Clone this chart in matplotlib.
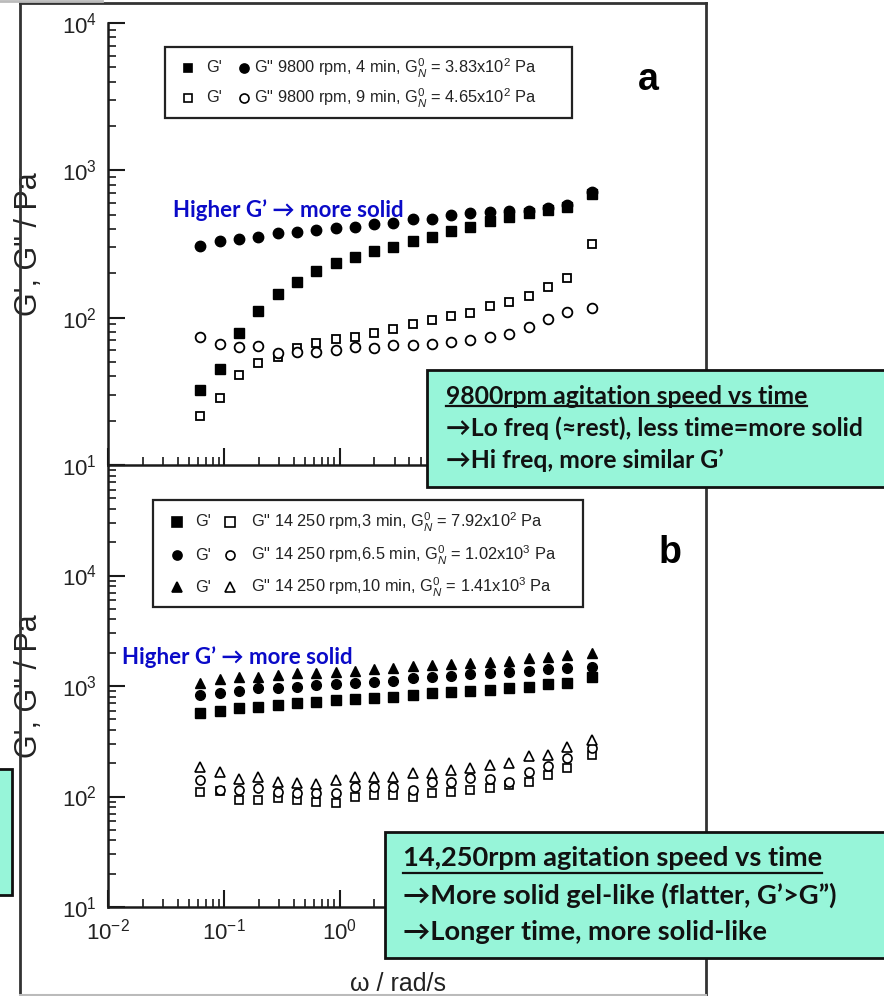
import matplotlib
matplotlib.use("Agg")
import matplotlib.pyplot as plt
from matplotlib.lines import Line2D
from matplotlib.patches import Rectangle
from matplotlib.ticker import LogLocator, NullFormatter

# ---------------------------------------------------------------- data
omega = [0.0628, 0.0922, 0.135, 0.199, 0.292, 0.428, 0.628, 0.922, 1.35, 1.99,
         2.92, 4.28, 6.28, 9.22, 13.5, 19.9, 29.2, 42.8, 62.8, 92.2, 150]

# (a) 9800 rpm
g1_4min = [32.3, 44.7, 78.3, 111, 145, 174, 207, 236, 257, 285, 303,
           332, 355, 390, 415, 456, 486, 512, 539, 567, 690]
g2_4min = [308, 332, 342, 355, 374, 384, 394, 404, 415, 431, 442,
           466, 468, 498, 511, 525, 530, 533, 553, 582, 710]
g1_9min = [21.5, 28.4, 40.8, 49.5, 54.3, 62, 67, 71.3, 74.3, 78.3, 83.8,
           90.2, 96.4, 103, 108, 120, 128, 141, 161, 185, 316]
g2_9min = [74.3, 66.2, 63.5, 64.5, 57.3, 58.7, 58.7, 60.4, 63.5, 62, 65.3,
           65.3, 66.2, 68.7, 70.6, 74.3, 77.4, 86.9, 97.5, 110, 116]

# (b) 14 250 rpm
g1_3min = [566, 598, 628, 650, 673, 706, 721, 747, 757, 773, 789,
           830, 860, 889, 907, 920, 953, 986, 1043, 1072, 1214]
g1_65min = [830, 860, 907, 953, 953, 986, 1021, 1036, 1057, 1094, 1117,
            1172, 1198, 1231, 1275, 1320, 1347, 1375, 1415, 1445, 1494]
g1_10min = [1057, 1148, 1198, 1214, 1258, 1303, 1320, 1347, 1375, 1415, 1445,
            1517, 1549, 1582, 1625, 1660, 1695, 1779, 1840, 1908, 1974]
g2_3min = [110, 113, 93, 93, 96, 93, 90, 87, 99.6, 103, 103,
           100, 107, 110, 115, 119, 127, 136, 157, 180, 238]
g2_65min = [141, 115, 115, 119, 110, 107, 107, 107, 123, 123, 123,
            115, 136, 136, 146, 143, 136, 168, 189, 221, 273]
g2_10min = [186, 168, 143, 151, 136, 133, 130, 141, 151, 151, 151,
            162, 164, 174, 180, 193, 202, 233, 238, 283, 325]

legend_a = ['G" 9800 rpm, 4 min, G$^{0}_{N}$ = 3.83x10$^{2}$ Pa',
            'G" 9800 rpm, 9 min, G$^{0}_{N}$ = 4.65x10$^{2}$ Pa']
legend_b = ['G" 14 250 rpm,3 min, G$^{0}_{N}$ = 7.92x10$^{2}$ Pa',
            'G" 14 250 rpm,6.5 min, G$^{0}_{N}$ = 1.02x10$^{3}$ Pa',
            'G" 14 250 rpm,10 min, G$^{0}_{N}$ = 1.41x10$^{3}$ Pa']

# decades to the right of 10^0 sit under the note box, so they carry no label
xticks = [1e-2, 1e-1, 1e0, 1e1, 1e2, 1e3]
xticklabels = ['$10^{-2}$', '$10^{-1}$', '$10^{0}$', '', '', '']
yticks_a = [1e1, 1e2, 1e3, 1e4]
yticklabels_a = ['$10^{1}$', '$10^{2}$', '$10^{3}$', '$10^{4}$']
yticks_b = [1e1, 1e2, 1e3, 1e4, 1e5]
yticklabels_b = ['$10^{1}$', '$10^{2}$', '$10^{3}$', '$10^{4}$', '']

note_a = ["9800rpm agitation speed vs time",
          "→Lo freq (≈rest), less time=more solid",
          "→Hi freq, more similar G’"]
note_b = ["14,250rpm agitation speed vs time",
          "→More solid gel-like (flatter, G’>G”)",
          "→Longer time, more solid-like"]
hint = "Higher G’ → more solid"

# ---------------------------------------------------------------- style
plt.rcParams['font.family'] = ['Liberation Sans', 'DejaVu Sans']
plt.rcParams['mathtext.fontset'] = 'custom'
plt.rcParams['mathtext.rm'] = 'Liberation Sans'
plt.rcParams['mathtext.it'] = 'Liberation Sans:italic'
plt.rcParams['mathtext.bf'] = 'Liberation Sans:bold'

W, H = 884, 996
fig = plt.figure(figsize=(W / 100, H / 100), dpi=100)
fig.patch.set_facecolor('white')

INK = '#1a1a1a'
TEAL = '#97F5D9'
BLUE = '#0A0AC8'
NOTE_FONT = ['Lato', 'DejaVu Sans']
LEG_SIZE = 11.8


def fx(x):
    return x / W


def fy(y):
    return 1 - y / H


def axes_px(x0, y0, x1, y1):
    return fig.add_axes([fx(x0), fy(y1), (x1 - x0) / W, (y1 - y0) / H])


def style_axes(ax, ylim, yticks, ylabels, show_x):
    ax.set_xscale('log')
    ax.set_yscale('log')
    ax.set_xlim(1e-2, 1e3)
    ax.set_ylim(*ylim)
    ax.patch.set_alpha(0)
    for s in ('top', 'right'):
        ax.spines[s].set_visible(False)
    for s in ('left', 'bottom'):
        ax.spines[s].set_linewidth(1.8)
        ax.spines[s].set_color(INK)
    ax.set_xticks(xticks, xticklabels if show_x else [''] * len(xticks))
    ax.set_yticks(yticks, ylabels)
    ax.xaxis.set_minor_locator(LogLocator(base=10, subs=range(2, 10), numticks=20))
    ax.yaxis.set_minor_locator(LogLocator(base=10, subs=range(2, 10), numticks=20))
    ax.xaxis.set_minor_formatter(NullFormatter())
    ax.yaxis.set_minor_formatter(NullFormatter())
    ax.tick_params(which='both', direction='in', color=INK, labelcolor='#222',
                   labelsize=16, top=False, right=False)
    ax.tick_params(which='major', length=12, width=1.5, pad=8)
    ax.tick_params(which='minor', length=6, width=1.2)
    ax.set_ylabel('G\', G" / Pa', fontsize=22, color='#222')
    ax.yaxis.set_label_coords(-0.11, 0.5)


ax_a = axes_px(108, 23, 687, 465)
ax_b = axes_px(108, 465, 687, 907)
style_axes(ax_a, (1e1, 1e4), yticks_a, yticklabels_a, False)
style_axes(ax_b, (1e1, 1e5), yticks_b, yticklabels_b, True)
ax_b.set_xlabel('ω / rad/s', fontsize=18, color='#222', labelpad=20)

mk = dict(linestyle='none', color='black', clip_on=False)
# (a)
ax_a.plot(omega, g1_9min, marker='s', ms=6, mfc='white', mew=1.3, **mk)
ax_a.plot(omega, g2_9min, marker='o', ms=7, mfc='white', mew=1.3, **mk)
ax_a.plot(omega, g1_4min, marker='s', ms=6.5, **mk)
ax_a.plot(omega, g2_4min, marker='o', ms=7.5, **mk)
# (b)
ax_b.plot(omega, g2_3min, marker='s', ms=6, mfc='white', mew=1.2, **mk)
ax_b.plot(omega, g2_65min, marker='o', ms=6.5, mfc='white', mew=1.2, **mk)
ax_b.plot(omega, g2_10min, marker='^', ms=7, mfc='white', mew=1.2, **mk)
ax_b.plot(omega, g1_3min, marker='s', ms=6.5, **mk)
ax_b.plot(omega, g1_65min, marker='o', ms=7, **mk)
ax_b.plot(omega, g1_10min, marker='^', ms=7.5, **mk)


# ---------------------------------------------------------------- legends
def key_marker(x, y, marker, filled, ms):
    fig.add_artist(Line2D([fx(x)], [fy(y)], transform=fig.transFigure,
                          marker=marker, ms=ms, color='black',
                          mfc='black' if filled else 'white', mew=1.2,
                          linestyle='none', zorder=6))


def legend_box(x0, y0, x1, y1):
    fig.add_artist(Rectangle((fx(x0), fy(y1)), (x1 - x0) / W, (y1 - y0) / H,
                             transform=fig.transFigure, fill=False,
                             edgecolor='#222', lw=1.6, zorder=6))


legend_box(165, 47, 572, 118)
rows_a = [(68, 's', 'o', True), (98, 's', 'o', False)]
for (y, m1, m2, filled), lab in zip(rows_a, legend_a):
    key_marker(188, y, m1, filled, 6)
    fig.text(fx(206), fy(y), "G'", fontsize=LEG_SIZE, va='center', color='#222', zorder=6)
    key_marker(244, y, m2, filled, 6.5)
    fig.text(fx(254), fy(y), lab, fontsize=LEG_SIZE, va='center', color='#222', zorder=6)

legend_box(153, 500, 583, 607)
rows_b = [(522, 's'), (555, 'o'), (587, '^')]
for (y, m), lab in zip(rows_b, legend_b):
    key_marker(177, y, m, True, 6.5)
    fig.text(fx(195), fy(y), "G'", fontsize=LEG_SIZE, va='center', color='#222', zorder=6)
    key_marker(230, y, m, False, 6.5)
    fig.text(fx(251), fy(y), lab, fontsize=LEG_SIZE, va='center', color='#222', zorder=6)

fig.text(fx(648), fy(80), 'a', fontsize=27, fontweight='bold', ha='center', va='center')
fig.text(fx(670), fy(553), 'b', fontsize=27, fontweight='bold', ha='center', va='center')

# ---------------------------------------------------------------- page frame
frame = dict(transform=fig.transFigure, color='#333', lw=2, zorder=4)
fig.add_artist(Line2D([fx(20), fx(20)], [fy(3), fy(996)], **frame))
fig.add_artist(Line2D([fx(20), fx(706)], [fy(3), fy(3)], **frame))
fig.add_artist(Line2D([fx(706), fx(706)], [fy(3), fy(996)], **frame))
fig.add_artist(Line2D([fx(20), fx(706)], [fy(995), fy(995)],
                      transform=fig.transFigure, color='#bbbbbb', lw=1.5, zorder=4))
fig.add_artist(Line2D([fx(0), fx(102)], [fy(0.8), fy(0.8)],
                      transform=fig.transFigure, color='#bbbbbb', lw=2, zorder=4))

# ---------------------------------------------------------------- annotations
fig.text(fx(173), fy(210), hint, fontsize=16, fontweight='bold', color=BLUE,
         family=NOTE_FONT, va='center', zorder=7)
fig.text(fx(122), fy(657), hint, fontsize=16, fontweight='bold', color=BLUE,
         family=NOTE_FONT, va='center', zorder=7)


def note(x0, y0, y1, x_text, ys, lines, size):
    fig.add_artist(Rectangle((fx(x0), fy(y1)), (W + 20 - x0) / W, (y1 - y0) / H,
                             transform=fig.transFigure, facecolor=TEAL,
                             edgecolor='#111', lw=2, zorder=10))
    texts = []
    for y, s in zip(ys, lines):
        texts.append(fig.text(fx(x_text), fy(y), s, fontsize=size, fontweight='bold',
                              family=NOTE_FONT, color='#111', va='center', zorder=11))
    return texts


notes_a = note(427, 370, 487, 446, [396, 428, 460], note_a, 17.8)
notes_b = note(385, 832, 958, 403, [858, 895, 932], note_b, 19.6)
# narrow sliver of a third note at the left page edge
fig.add_artist(Rectangle((fx(-10), fy(895)), 22 / W, (895 - 769) / H,
                         transform=fig.transFigure, facecolor=TEAL,
                         edgecolor='#111', lw=2, zorder=10))

# underline the note headings
renderer = fig.canvas.get_renderer()
for t, y in ((notes_a[0], 406), (notes_b[0], 873)):
    bb = t.get_window_extent(renderer)
    fig.add_artist(Line2D([bb.x0 / W, bb.x1 / W], [fy(y), fy(y)],
                          transform=fig.transFigure, color='#111', lw=1.6, zorder=11))

fig.savefig('out.png', dpi=100)
